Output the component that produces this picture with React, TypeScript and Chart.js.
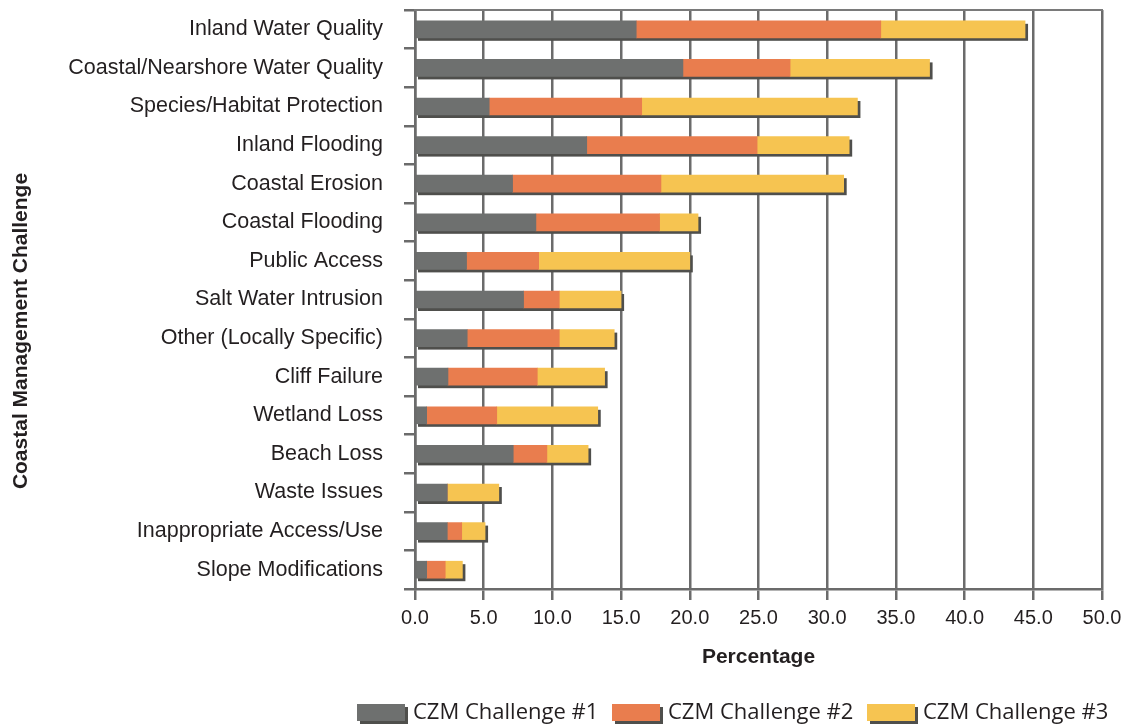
import React, { useEffect, useRef } from "react";
import { Chart, registerables } from "chart.js";

Chart.register(...registerables);

const categories = [
  "Inland Water Quality",
  "Coastal/Nearshore Water Quality",
  "Species/Habitat Protection",
  "Inland Flooding",
  "Coastal Erosion",
  "Coastal Flooding",
  "Public Access",
  "Salt Water Intrusion",
  "Other (Locally Specific)",
  "Cliff Failure",
  "Wetland Loss",
  "Beach Loss",
  "Waste Issues",
  "Inappropriate Access/Use",
  "Slope Modifications",
];

const challenge1 = [16.1, 19.5, 5.4, 12.5, 7.1, 8.8, 3.75, 7.9, 3.8, 2.4, 0.85, 7.15, 2.35, 2.35, 0.85];
const challenge2 = [17.8, 7.8, 11.1, 12.4, 10.8, 9.0, 5.25, 2.6, 6.7, 6.5, 5.1, 2.45, 0, 1.05, 1.35];
const challenge3 = [10.5, 10.15, 15.7, 6.7, 13.3, 2.8, 11.0, 4.5, 4.0, 4.9, 7.35, 3.0, 3.75, 1.7, 1.25];

const seriesLabels = ["CZM Challenge #1", "CZM Challenge #2", "CZM Challenge #3"];
const seriesColors = ["#6e706f", "#e97d4e", "#f6c451"];

const xMin = 0;
const xMax = 50;
const xStep = 5;

const xTitle = "Percentage";
const yTitle = "Coastal Management Challenge";

const GRID = "#6b6b6b";
const SHADOW = "#4f4f4c";
const TEXT = "#231f20";
const FONT = "'Liberation Sans', Arial, Helvetica, sans-serif";
const LEGEND_FONT = "'Open Sans', 'Liberation Sans', sans-serif";

const decorPlugin = {
  id: "decor",
  beforeDatasetsDraw(chart: any) {
    const ctx = chart.ctx;
    const xs = chart.scales.x;
    const metas = chart.getSortedVisibleDatasetMetas();
    ctx.save();
    ctx.fillStyle = SHADOW;
    categories.forEach((_, i) => {
      let total = 0;
      chart.data.datasets.forEach((ds: any) => (total += ds.data[i]));
      const el = metas[0].data[i];
      const h = el.height;
      const x0 = xs.getPixelForValue(0);
      const x1 = xs.getPixelForValue(total);
      ctx.fillRect(x0 + 3, el.y - h / 2 + 3, x1 - x0, h);
    });
    ctx.restore();
  },
  afterDraw(chart: any) {
    const ctx = chart.ctx;
    const { left, right, top } = chart.chartArea;
    ctx.save();
    // top frame line
    ctx.strokeStyle = "#7a7a7a";
    ctx.lineWidth = 2;
    ctx.beginPath();
    ctx.moveTo(left - 1, top);
    ctx.lineTo(right + 1, top);
    ctx.stroke();

    // y axis title
    ctx.fillStyle = TEXT;
    ctx.font = `bold 21px ${FONT}`;
    ctx.textAlign = "center";
    ctx.textBaseline = "middle";
    ctx.translate(21, 331);
    ctx.rotate(-Math.PI / 2);
    ctx.fillText(yTitle, 0, 0);
    ctx.restore();

    // legend
    ctx.save();
    ctx.font = `22px ${LEGEND_FONT}`;
    ctx.textBaseline = "middle";
    ctx.textAlign = "left";
    const boxW = 48;
    const boxH = 17;
    const yBox = 704;
    const starts = [357, 612, 867];
    seriesLabels.forEach((lab, i) => {
      const bx = starts[i];
      ctx.fillStyle = SHADOW;
      ctx.fillRect(bx + 3, yBox + 3, boxW, boxH);
      ctx.fillStyle = seriesColors[i];
      ctx.fillRect(bx, yBox, boxW, boxH);
      ctx.fillStyle = TEXT;
      ctx.fillText(lab, bx + boxW + 8, yBox + 9);
    });
    ctx.restore();
  },
};

export default function App() {
  const ref = useRef<HTMLCanvasElement | null>(null);

  useEffect(() => {
    if (!ref.current) return;
    const datasets = [challenge1, challenge2, challenge3].map((d, i) => ({
      label: seriesLabels[i],
      data: d,
      backgroundColor: seriesColors[i],
      borderWidth: 0,
      barThickness: 17,
    }));
    const chart = new Chart(ref.current, {
      type: "bar",
      data: { labels: categories, datasets },
      plugins: [decorPlugin],
      options: {
        indexAxis: "y",
        animation: false,
        responsive: false,
        devicePixelRatio: 1,
        layout: { padding: { left: 0, right: 30, top: 10, bottom: 0 } },
        plugins: {
          legend: { display: false },
          tooltip: { enabled: false },
        },
        scales: {
          x: {
            stacked: true,
            min: xMin,
            max: xMax,
            afterFit: (s: any) => {
              s.height = 136;
            },
            ticks: {
              stepSize: xStep,
              color: TEXT,
              padding: 6,
              font: { family: FONT, size: 20 },
              callback: (v: any) => Number(v).toFixed(1),
            },
            grid: { color: GRID, lineWidth: 2.5, tickLength: 11, tickColor: GRID },
            border: { display: true, color: GRID, width: 2.5 },
            title: {
              display: true,
              text: xTitle,
              color: TEXT,
              font: { family: FONT, size: 21, weight: "bold" },
              padding: { top: 0, bottom: 55 },
            },
          },
          y: {
            stacked: true,
            afterFit: (s: any) => {
              s.width = 415;
              s.paddingTop = 0;
              s.paddingBottom = 0;
            },
            ticks: {
              color: TEXT,
              padding: 21,
              font: { family: FONT, size: 21.5 },
            },
            grid: {
              offset: true,
              drawOnChartArea: false,
              color: GRID,
              lineWidth: 2.5,
              tickLength: 11,
            },
            border: { display: true, color: GRID, width: 2.5, z: 1 },
          },
        },
      },
    });
    return () => chart.destroy();
  }, []);

  return (
    <div style={{ position: "fixed", left: 0, top: 0, width: 1132, height: 725, background: "#fff" }}>
      <canvas ref={ref} width={1132} height={725} style={{ display: "block" }} />
    </div>
  );
}
